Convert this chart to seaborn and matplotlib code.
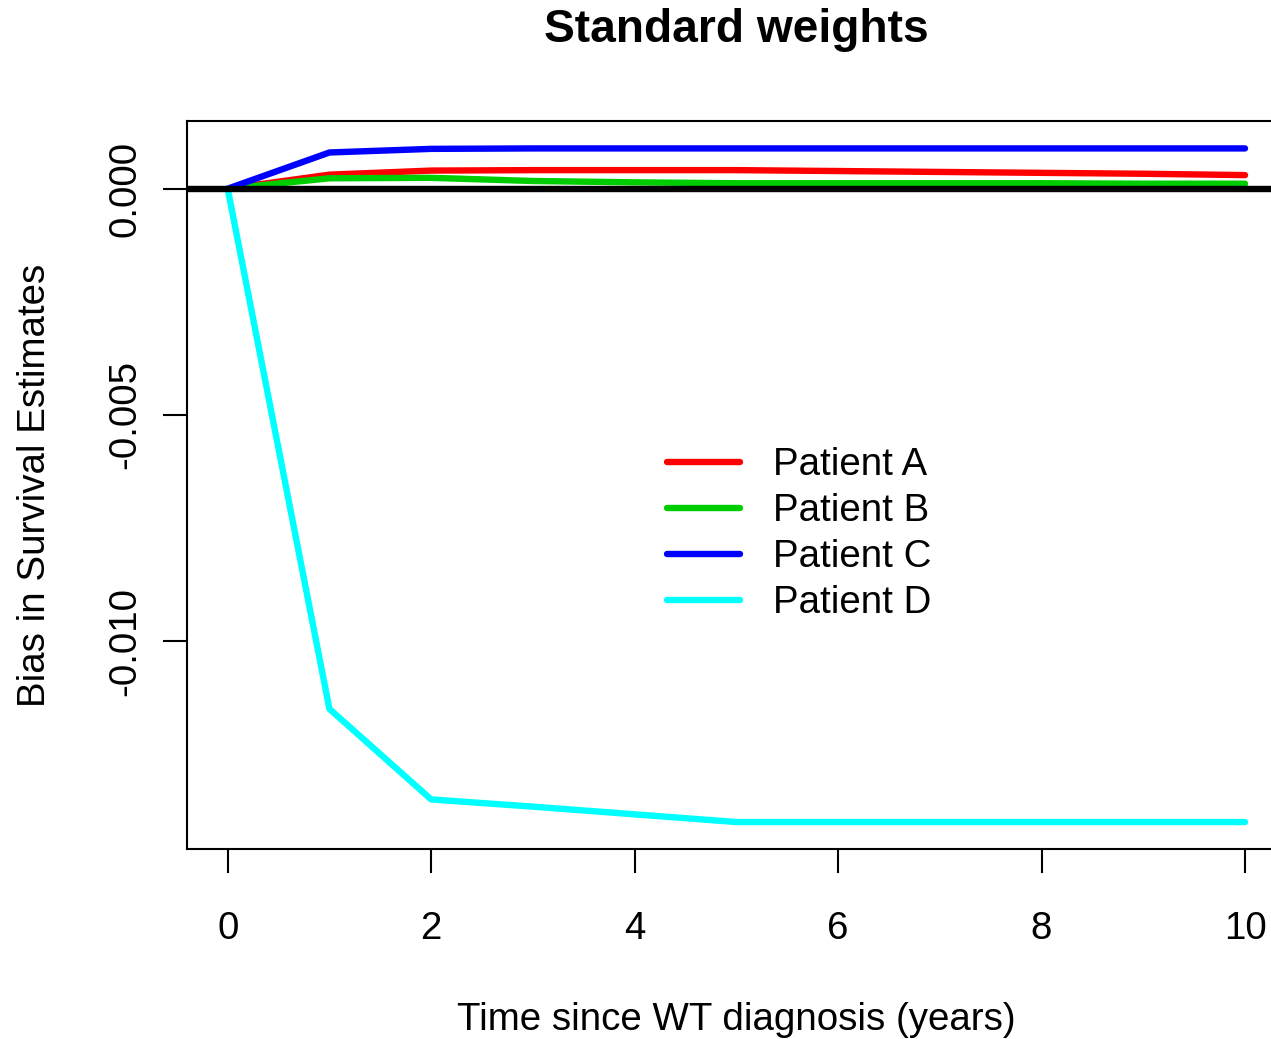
import matplotlib
matplotlib.use("Agg")
import matplotlib.pyplot as plt
import seaborn as sns
import pandas as pd

# Bias in survival estimates by year since diagnosis
years = [0, 1, 2, 3, 4, 5, 6, 7, 8, 9, 10]
patient_a = [0.0, 0.00031, 0.00040, 0.00041, 0.00041, 0.00041, 0.00039, 0.00037, 0.00035, 0.00033, 0.00030]
patient_b = [0.0, 0.00023, 0.00024, 0.00017, 0.00014, 0.00012, 0.00012, 0.00012, 0.00012, 0.00011, 0.00011]
patient_c = [0.0, 0.00080, 0.00088, 0.00089, 0.00089, 0.00089, 0.00089, 0.00089, 0.00089, 0.00089, 0.00089]
patient_d = [0.0, -0.0115, -0.0135, -0.01366, -0.01383, -0.0140, -0.0140, -0.0140, -0.0140, -0.0140, -0.0140]

patients = ["Patient A", "Patient B", "Patient C", "Patient D"]
colors = ["#FF0000", "#00CD00", "#0000FF", "#00FFFF"]
xticks = [0, 2, 4, 6, 8, 10]
yticks = [0.000, -0.005, -0.010]
ytick_labels = ["0.000", "-0.005", "-0.010"]

rows = []
for name, vals in zip(patients, [patient_a, patient_b, patient_c, patient_d]):
    for t, v in zip(years, vals):
        rows.append({"time": t, "bias": v, "patient": name})
df = pd.DataFrame(rows)

sns.set_style("white")
plt.rcParams["font.family"] = ["Liberation Sans", "DejaVu Sans"]
plt.rcParams["text.color"] = "black"
plt.rcParams["axes.labelcolor"] = "black"
plt.rcParams["xtick.color"] = "black"
plt.rcParams["ytick.color"] = "black"
base = 27.7

W, H = 1271, 1039
fig = plt.figure(figsize=(W / 100, H / 100), dpi=100)
ax = fig.add_axes([187 / W, 1 - 849 / H, (1285.7 - 187) / W, (849 - 121) / H])

lw = 4.6
sns.lineplot(data=df, x="time", y="bias", hue="patient", hue_order=patients,
             palette=colors, linewidth=lw, ax=ax, legend=False,
             solid_capstyle="round", solid_joinstyle="round")
ax.axhline(0, color="black", linewidth=lw, zorder=5)

ax.set_xlim(-0.4, 10.4)
ax.set_ylim(-0.014596, 0.001496)
ax.set_xticks(xticks)
ax.set_xticklabels([str(v) for v in xticks])
ax.set_yticks(yticks)
ax.set_yticklabels(ytick_labels)

for s in ax.spines.values():
    s.set_linewidth(1.5)
    s.set_color("black")
ax.tick_params(axis="both", direction="out", length=17.3, width=1.5,
               color="black", labelsize=base, labelcolor="black")
ax.tick_params(axis="x", pad=27, bottom=True)
ax.tick_params(axis="y", pad=14, left=True, labelrotation=90)
for lbl in ax.get_yticklabels():
    lbl.set_va("center")

ax_h = (849 - 121) / H
ax_b = 1 - 849 / H
ax.set_xlabel("Time since WT diagnosis (years)", fontsize=base)
ax.set_ylabel("Bias in Survival Estimates", fontsize=base)
ax.xaxis.label.set_va("center")
ax.yaxis.label.set_va("center")
ax.xaxis.set_label_coords(0.5, (1 - 1020 / H - ax_b) / ax_h)
ax.yaxis.set_label_coords((35 - 187) / (1285.7 - 187), 0.5)

ax.set_title("Standard weights", fontsize=base * 1.2, fontweight="bold",
             y=(1 - 38 / H - ax_b) / ax_h, va="center", color="black")

handles = [plt.Line2D([], [], color=c, linewidth=lw, solid_capstyle="round") for c in colors]
ax.legend(handles, patients, loc="upper left", bbox_to_anchor=(667 / W, 1 - 447 / H),
          bbox_transform=fig.transFigure, frameon=False, fontsize=base,
          handlelength=1.9, handletextpad=0.86, labelspacing=0.26,
          borderpad=0, borderaxespad=0)

fig.savefig("out.png", dpi=100)
